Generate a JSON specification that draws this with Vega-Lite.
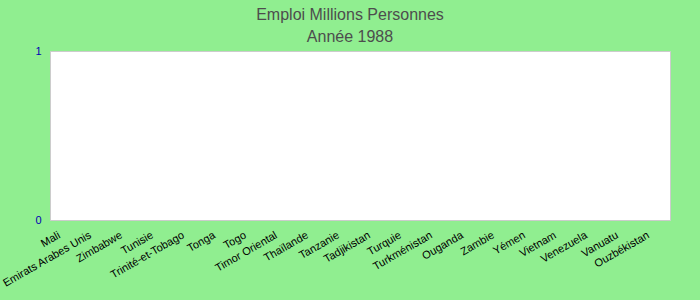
{
  "$schema": "https://vega.github.io/schema/vega-lite/v6.json",
  "width": 620,
  "height": 169,
  "autosize": {"type": "none"},
  "padding": {"left": 50, "top": 51, "right": 30, "bottom": 80},
  "background": "#90EE90",
  "title": {
    "text": "Emploi Millions Personnes",
    "subtitle": "Année 1988",
    "font": "Liberation Sans",
    "subtitleFont": "Liberation Sans",
    "fontSize": 16,
    "subtitleFontSize": 16,
    "fontWeight": "normal",
    "color": "#4d4d4d",
    "subtitleColor": "#4d4d4d",
    "anchor": "middle",
    "dx": -10,
    "offset": 0,
    "subtitlePadding": 6
  },
  "view": {"fill": "white", "stroke": "#cccccc"},
  "data": {
    "values": [
      {"pays": "Mali", "emploi": 0},
      {"pays": "Emirats Arabes Unis", "emploi": 0},
      {"pays": "Zimbabwe", "emploi": 0},
      {"pays": "Tunisie", "emploi": 0},
      {"pays": "Trinité-et-Tobago", "emploi": 0},
      {"pays": "Tonga", "emploi": 0},
      {"pays": "Togo", "emploi": 0},
      {"pays": "Timor Oriental", "emploi": 0},
      {"pays": "Thaïlande", "emploi": 0},
      {"pays": "Tanzanie", "emploi": 0},
      {"pays": "Tadjikistan", "emploi": 0},
      {"pays": "Turquie", "emploi": 0},
      {"pays": "Turkménistan", "emploi": 0},
      {"pays": "Ouganda", "emploi": 0},
      {"pays": "Zambie", "emploi": 0},
      {"pays": "Yémen", "emploi": 0},
      {"pays": "Vietnam", "emploi": 0},
      {"pays": "Venezuela", "emploi": 0},
      {"pays": "Vanuatu", "emploi": 0},
      {"pays": "Ouzbékistan", "emploi": 0}
    ]
  },
  "mark": {"type": "bar", "color": "#3366cc"},
  "encoding": {
    "x": {
      "field": "pays",
      "type": "nominal",
      "sort": null,
      "title": null,
      "axis": {
        "labelAngle": -30,
        "labelAlign": "right",
        "labelBaseline": "top",
        "labelFont": "Liberation Sans",
        "labelFontSize": 11,
        "labelColor": "#000000",
        "labelPadding": 9,
        "labelOffset": -9,
        "ticks": false,
        "domain": false,
        "grid": false,
        "labelOverlap": false,
        "labelLimit": 200
      }
    },
    "y": {
      "field": "emploi",
      "type": "quantitative",
      "title": null,
      "scale": {"domain": [0, 1], "nice": false},
      "axis": {
        "values": [0, 1],
        "format": "d",
        "labelFont": "Liberation Sans",
        "labelFontSize": 11,
        "labelColor": "#0000b3",
        "labelPadding": 9,
        "ticks": false,
        "domain": false,
        "grid": false
      }
    }
  }
}
